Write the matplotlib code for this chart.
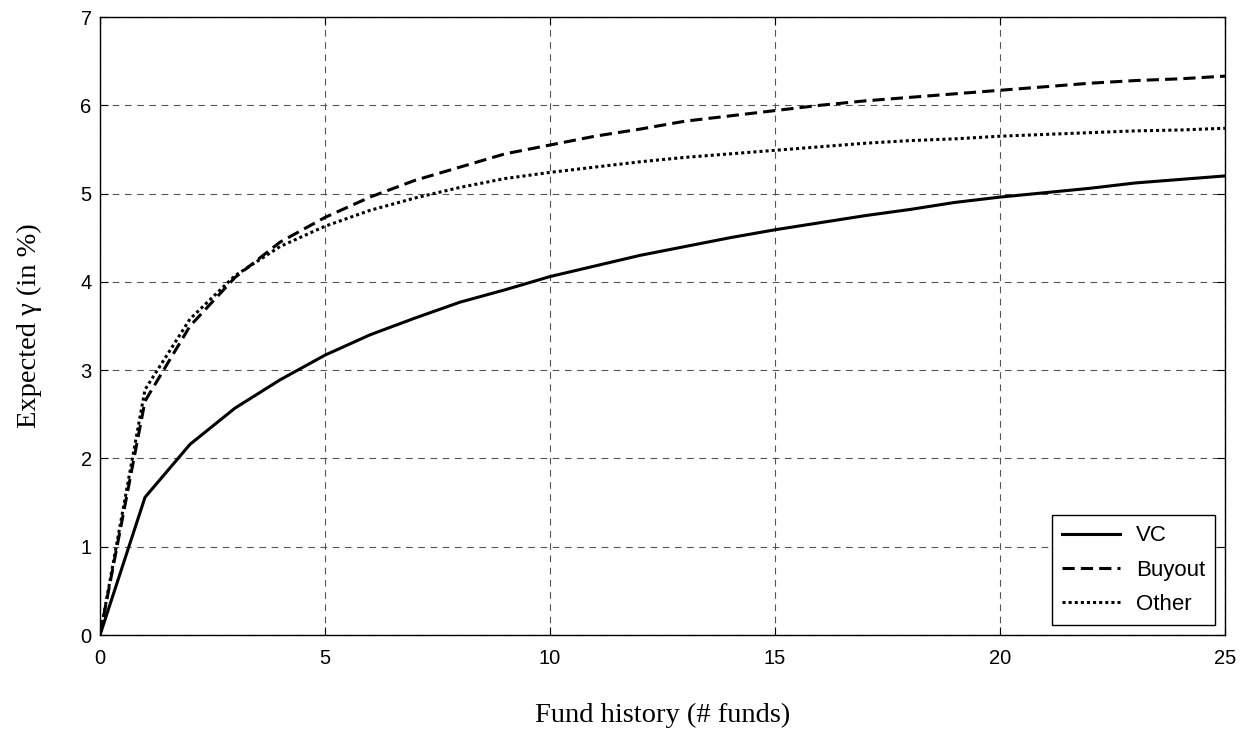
import matplotlib.pyplot as plt
import numpy as np

fund_history = list(range(26))
vc = [0.0, 1.56, 2.16, 2.57, 2.89, 3.17, 3.40, 3.59, 3.77, 3.91, 4.06,
      4.18, 4.30, 4.40, 4.50, 4.59, 4.67, 4.75, 4.82, 4.90, 4.96,
      5.01, 5.06, 5.12, 5.16, 5.20]
buyout = [0.0, 2.65, 3.50, 4.05, 4.45, 4.73, 4.96, 5.15, 5.30, 5.45, 5.55,
          5.65, 5.73, 5.82, 5.88, 5.94, 6.00, 6.05, 6.09, 6.13, 6.17,
          6.21, 6.25, 6.28, 6.30, 6.33]
other = [0.0, 2.78, 3.58, 4.07, 4.40, 4.63, 4.81, 4.95, 5.07, 5.17, 5.24,
         5.30, 5.36, 5.41, 5.45, 5.49, 5.53, 5.57, 5.60, 5.62, 5.65,
         5.67, 5.69, 5.71, 5.72, 5.74]

fig = plt.figure(figsize=(12.44, 7.36), dpi=100)
ax = fig.add_axes([0.0804, 0.1372, 0.9043, 0.8397])

ax.plot(fund_history, vc, color='black', linestyle='-', linewidth=2.2, label='VC')
ax.plot(fund_history, buyout, color='black', linestyle=(0, (4, 2)), linewidth=2.2, label='Buyout')
ax.plot(fund_history, other, color='black', linestyle=(0, (1, 1)), linewidth=2.2, label='Other')

ax.set_xlim(0, 25)
ax.set_ylim(0, 7)
ax.set_xticks(np.arange(0, 26, 5))
ax.set_yticks(np.arange(0, 8, 1))
ax.grid(True, color='#555555', linestyle=(0, (6, 5)), linewidth=0.8)
ax.tick_params(direction='in', top=True, right=True, length=6, labelsize=14.5)
ax.tick_params(axis='x', pad=10)
ax.tick_params(axis='y', pad=6)
for lbl in ax.get_xticklabels() + ax.get_yticklabels():
    lbl.set_fontfamily('Liberation Sans')
for sp in ax.spines.values():
    sp.set_linewidth(1.0)

ax.set_xlabel('Fund history (# funds)', fontfamily='Liberation Serif', fontsize=20.5)
ax.set_ylabel('Expected \u03b3 (in %)', fontfamily='Liberation Serif', fontsize=20.5)
ax.xaxis.set_label_coords(0.5, -0.11)
ax.yaxis.set_label_coords(-0.052, 0.5)

leg = ax.legend(loc='lower right', fancybox=False, edgecolor='black', framealpha=1,
                prop={'family': 'Liberation Sans', 'size': 16}, handlelength=2.6,
                handletextpad=0.7, borderaxespad=0.45, borderpad=0.45, labelspacing=0.6)
leg.get_frame().set_linewidth(1.0)

plt.savefig('out.png', dpi=100)
